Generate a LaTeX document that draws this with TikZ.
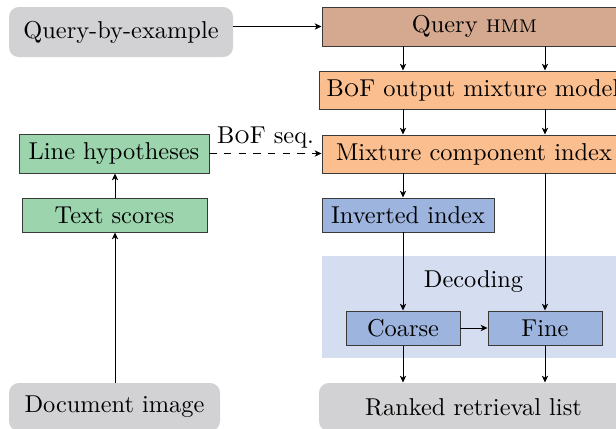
\documentclass[tikz,border=0pt]{standalone}
\usetikzlibrary{arrows.meta}
\definecolor{cgray}{HTML}{D2D2D4}
\definecolor{cbrown}{HTML}{D4A990}
\definecolor{corange}{HTML}{FBBE8F}
\definecolor{cgreen}{HTML}{9CD4AE}
\definecolor{cblue}{HTML}{9CB4DE}
\definecolor{cdec}{HTML}{D5DDF0}
\definecolor{cline}{HTML}{3A3A3A}
\begin{document}
\begin{tikzpicture}[x=0.41pt,y=-0.41pt,
  sz/.style 2 args={minimum width=#1*0.41pt, minimum height=#2*0.41pt, inner sep=0pt},
  term/.style={fill=cgray, rounded corners=4pt},
  proc/.style={draw=cline, line width=0.4pt},
  arr/.style={-{Stealth[length=2.8pt,width=2.6pt,inset=0.8pt]}, line width=0.4pt, black}]
\useasboundingbox (0,0) rectangle (616,428);
% decoding background
\fill[cdec] (322,256) rectangle (632,358);
\node (declabel) at (473.5,282) {Decoding};
% column coordinates
\coordinate (cA) at (403,0);
\coordinate (cB) at (545,0);
\coordinate (cL) at (115,0);
% nodes
\node[term, sz={224}{50}] (qbe) at (121,32) {Query-by-example};
\node[proc, fill=cbrown, sz={305}{39}] (qhmm) at (474.5,26.5) {Query \textsc{hmm}};
\node[proc, fill=corange, sz={308}{38}] (bof) at (473,90) {B\textsc{o}F output mixture model};
\node[proc, fill=corange, sz={304}{38}] (mci) at (474,154) {Mixture component index};
\node[proc, fill=cgreen, sz={190}{39}] (lh) at (114,153.5) {Line hypotheses};
\node[proc, fill=cgreen, sz={185}{34}] (ts) at (114.5,215) {Text scores};
\node[term, sz={211}{48}] (doc) at (114.5,407) {Document image};
\node[proc, fill=cblue, sz={172}{34}] (inv) at (408,215) {Inverted index};
\node[proc, fill=cblue, sz={114}{34}] (coarse) at (403,328) {Coarse};
\node[proc, fill=cblue, sz={114}{34}] (fine) at (545,328) {Fine};
\node[term, sz={309}{48}] (ranked) at (473.5,407) {Ranked retrieval list};
% connectors
\draw[arr] (qbe.east |- qhmm.west) -- (qhmm.west);
\draw[arr] (qhmm.south -| cA) -- (bof.north -| cA);
\draw[arr] (qhmm.south -| cB) -- (bof.north -| cB);
\draw[arr] (bof.south -| cA) -- (mci.north -| cA);
\draw[arr] (bof.south -| cB) -- (mci.north -| cB);
\draw[arr] (mci.south -| cA) -- (inv.north -| cA);
\draw[arr] (inv.south -| cA) -- (coarse.north);
\draw[arr] (mci.south -| cB) -- (fine.north);
\draw[arr] (coarse) -- (fine);
\draw[arr] (coarse.south) -- (ranked.north -| cA);
\draw[arr] (fine.south) -- (ranked.north -| cB);
\draw[arr] (doc.north -| cL) -- (ts.south -| cL);
\draw[arr] (ts.north -| cL) -- (lh.south -| cL);
\draw[arr, dashed] (lh.east) -- node[above, yshift=-1.5pt] (bofseq) {B\textsc{o}F seq.} (lh.east -| mci.west);
\end{tikzpicture}
\end{document}
